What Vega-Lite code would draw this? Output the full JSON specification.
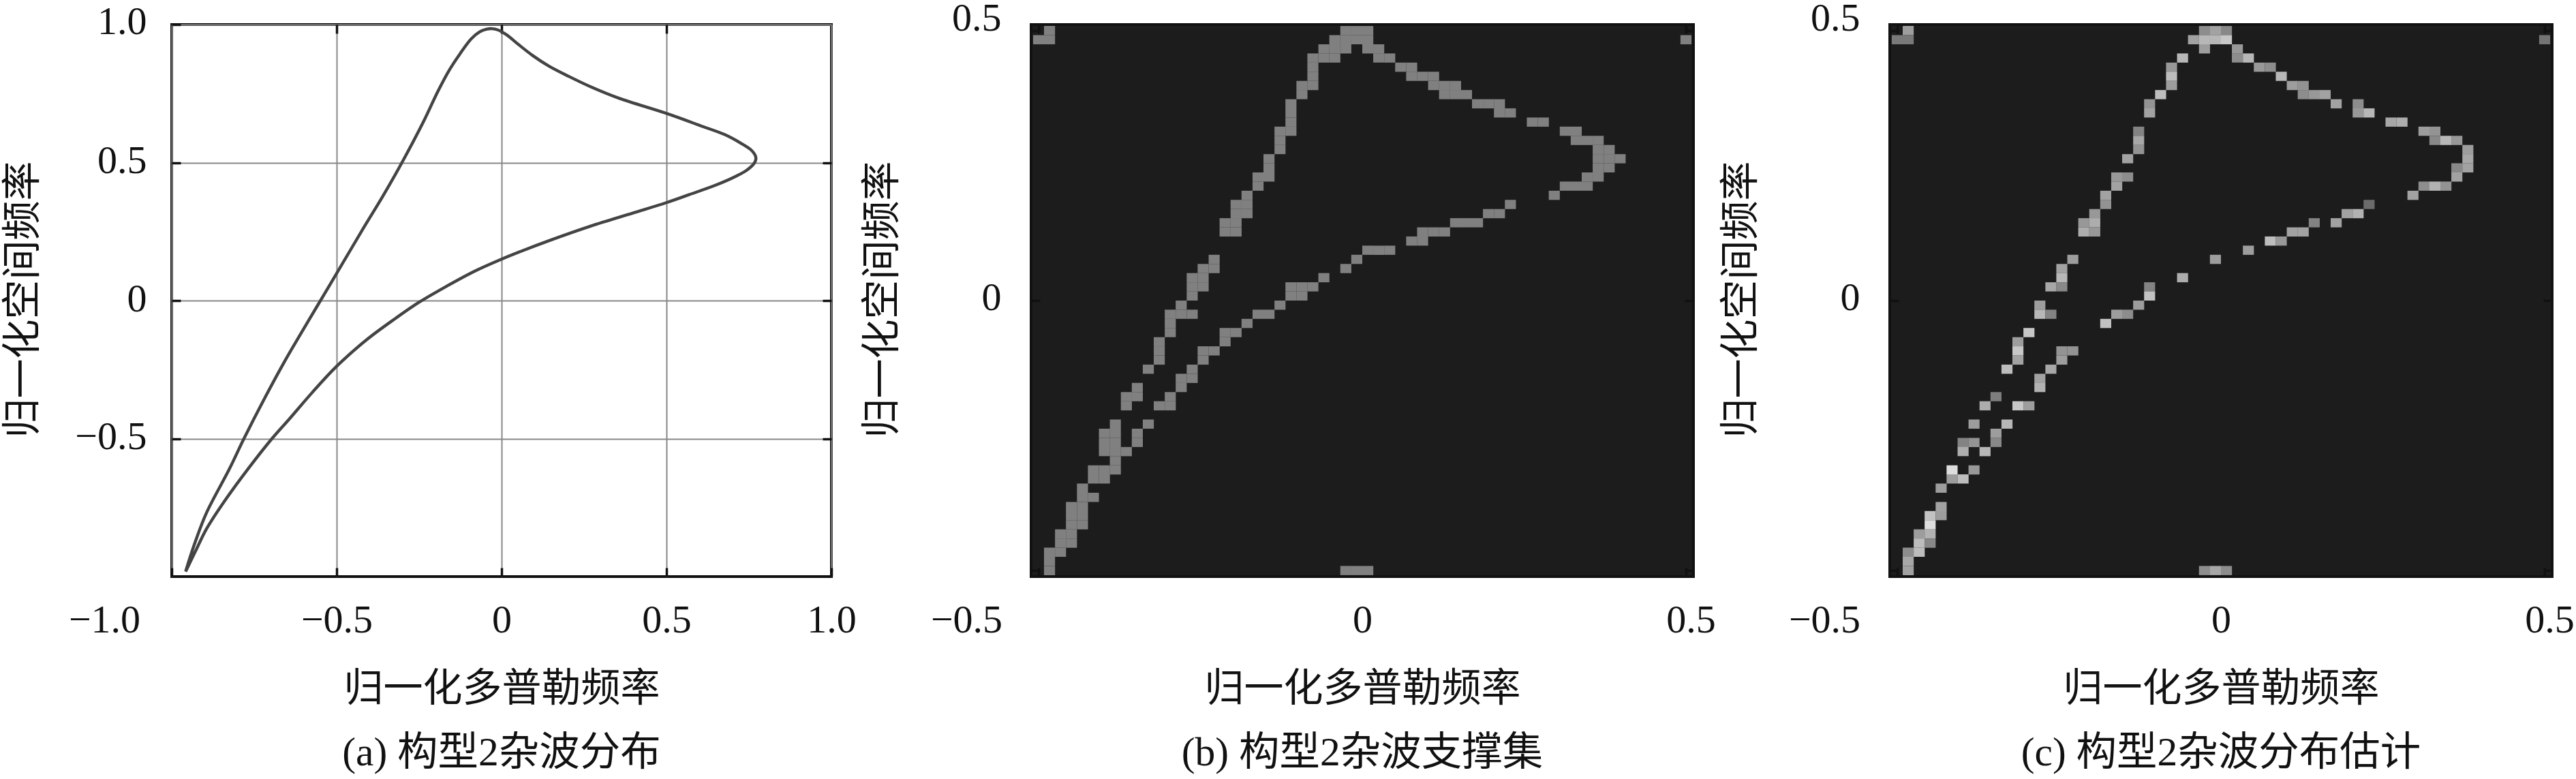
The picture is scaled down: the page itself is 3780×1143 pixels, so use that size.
{"$schema":"https://vega.github.io/schema/vega-lite/v6.json","background":"white","padding":{"left":3,"top":-4,"right":0,"bottom":0},"spacing":293,"bounds":"flush",
"config":{"view":{"stroke":"#111111","strokeWidth":4},"axis":{"labelFont":"Liberation Serif","titleFont":"Liberation Serif, Noto Sans CJK SC","labelFontSize":58,"titleFontSize":58,"titleFontWeight":"normal","labelColor":"#111111","titleColor":"#111111","domain":false,"tickColor":"#111111","tickWidth":3.5,"tickSize":-13,"labelOverlap":false,"labelBound":false,"labelFlush":false,"grid":false,"zindex":1},"title":{"font":"Liberation Serif, Noto Sans CJK SC","fontSize":59.5,"fontWeight":"normal","color":"#111111"}},
"datasets":{
"curve":[{"i":1,"d":-0.958,"s":-0.982},{"i":2,"d":-0.933,"s":-0.889},{"i":3,"d":-0.895,"s":-0.77},{"i":4,"d":-0.826,"s":-0.612},{"i":5,"d":-0.781,"s":-0.5},{"i":6,"d":-0.718,"s":-0.353},{"i":7,"d":-0.659,"s":-0.223},{"i":8,"d":-0.591,"s":-0.084},{"i":9,"d":-0.549,"s":0},{"i":10,"d":-0.515,"s":0.068},{"i":11,"d":-0.42,"s":0.26},{"i":12,"d":-0.36,"s":0.378},{"i":13,"d":-0.302,"s":0.5},{"i":15,"d":-0.236,"s":0.65},{"i":16,"d":-0.193,"s":0.758},{"i":17,"d":-0.16,"s":0.832},{"i":18,"d":-0.126,"s":0.894},{"i":19,"d":-0.092,"s":0.948},{"i":20,"d":-0.067,"s":0.973},{"i":21,"d":-0.046,"s":0.983},{"i":22,"d":-0.029,"s":0.985},{"i":23,"d":-0.012,"s":0.981},{"i":24,"d":0.014,"s":0.964},{"i":25,"d":0.052,"s":0.927},{"i":26,"d":0.094,"s":0.888},{"i":27,"d":0.144,"s":0.849},{"i":28,"d":0.204,"s":0.812},{"i":29,"d":0.271,"s":0.774},{"i":30,"d":0.356,"s":0.733},{"i":31,"d":0.5,"s":0.678},{"i":32,"d":0.609,"s":0.631},{"i":33,"d":0.677,"s":0.601},{"i":34,"d":0.727,"s":0.569},{"i":35,"d":0.757,"s":0.545},{"i":36,"d":0.769,"s":0.526},{"i":37,"d":0.771,"s":0.512},{"i":38,"d":0.765,"s":0.496},{"i":39,"d":0.744,"s":0.473},{"i":40,"d":0.71,"s":0.45},{"i":41,"d":0.651,"s":0.419},{"i":42,"d":0.567,"s":0.383},{"i":43,"d":0.5,"s":0.355},{"i":44,"d":0.398,"s":0.317},{"i":45,"d":0.271,"s":0.27},{"i":46,"d":0.144,"s":0.217},{"i":47,"d":0.06,"s":0.179},{"i":48,"d":0,"s":0.15},{"i":49,"d":-0.084,"s":0.105},{"i":50,"d":-0.168,"s":0.051},{"i":51,"d":-0.25,"s":-0.006},{"i":52,"d":-0.321,"s":-0.064},{"i":53,"d":-0.406,"s":-0.139},{"i":54,"d":-0.5,"s":-0.238},{"i":55,"d":-0.574,"s":-0.333},{"i":56,"d":-0.642,"s":-0.427},{"i":57,"d":-0.696,"s":-0.5},{"i":58,"d":-0.768,"s":-0.609},{"i":59,"d":-0.836,"s":-0.72},{"i":60,"d":-0.895,"s":-0.828},{"i":61,"d":-0.924,"s":-0.898},{"i":62,"d":-0.958,"s":-0.982}],
"support":[
{"d":-0.4831,"s":0.5},{"d":-0.0254,"s":0.5},{"d":-0.0085,"s":0.5},{"d":0.0085,"s":0.5},
{"d":-0.5,"s":0.4831},{"d":-0.4831,"s":0.4831},{"d":-0.0424,"s":0.4831},{"d":-0.0254,"s":0.4831},{"d":-0.0085,"s":0.4831},{"d":0.0085,"s":0.4831},{"d":0.5,"s":0.4831},
{"d":-0.0593,"s":0.4661},{"d":-0.0424,"s":0.4661},{"d":-0.0254,"s":0.4661},{"d":0.0085,"s":0.4661},{"d":0.0254,"s":0.4661},
{"d":-0.0763,"s":0.4492},{"d":-0.0593,"s":0.4492},{"d":-0.0424,"s":0.4492},{"d":0.0254,"s":0.4492},{"d":0.0424,"s":0.4492},
{"d":-0.0763,"s":0.4322},{"d":0.0593,"s":0.4322},{"d":0.0763,"s":0.4322},
{"d":-0.0763,"s":0.4153},{"d":0.0763,"s":0.4153},{"d":0.0932,"s":0.4153},{"d":0.1102,"s":0.4153},
{"d":-0.0932,"s":0.3983},{"d":-0.0763,"s":0.3983},{"d":0.1102,"s":0.3983},{"d":0.1271,"s":0.3983},{"d":0.1441,"s":0.3983},
{"d":-0.0932,"s":0.3814},{"d":0.1271,"s":0.3814},{"d":0.1441,"s":0.3814},{"d":0.161,"s":0.3814},
{"d":-0.1102,"s":0.3644},{"d":0.178,"s":0.3644},{"d":0.1949,"s":0.3644},{"d":0.2119,"s":0.3644},
{"d":-0.1102,"s":0.3475},{"d":0.2119,"s":0.3475},{"d":0.2288,"s":0.3475},
{"d":-0.1102,"s":0.3305},{"d":0.2627,"s":0.3305},{"d":0.2797,"s":0.3305},
{"d":-0.1271,"s":0.3136},{"d":-0.1102,"s":0.3136},{"d":0.3136,"s":0.3136},{"d":0.3305,"s":0.3136},
{"d":-0.1271,"s":0.2966},{"d":0.3305,"s":0.2966},{"d":0.3475,"s":0.2966},{"d":0.3644,"s":0.2966},
{"d":-0.1271,"s":0.2797},{"d":0.3644,"s":0.2797},{"d":0.3814,"s":0.2797},
{"d":-0.1441,"s":0.2627},{"d":0.3644,"s":0.2627},{"d":0.3814,"s":0.2627},{"d":0.3983,"s":0.2627},
{"d":-0.1441,"s":0.2458},{"d":0.3644,"s":0.2458},{"d":0.3814,"s":0.2458},
{"d":-0.161,"s":0.2288},{"d":-0.1441,"s":0.2288},{"d":0.3475,"s":0.2288},{"d":0.3644,"s":0.2288},
{"d":-0.161,"s":0.2119},{"d":0.3136,"s":0.2119},{"d":0.3305,"s":0.2119},{"d":0.3475,"s":0.2119},
{"d":-0.178,"s":0.1949},{"d":0.2966,"s":0.1949},
{"d":-0.1949,"s":0.178},{"d":-0.178,"s":0.178},{"d":0.2288,"s":0.178},
{"d":-0.1949,"s":0.161},{"d":-0.178,"s":0.161},{"d":0.1949,"s":0.161},{"d":0.2119,"s":0.161},
{"d":-0.2119,"s":0.1441},{"d":-0.1949,"s":0.1441},{"d":0.1441,"s":0.1441},{"d":0.161,"s":0.1441},{"d":0.178,"s":0.1441},
{"d":-0.2119,"s":0.1271},{"d":-0.1949,"s":0.1271},{"d":0.0932,"s":0.1271},{"d":0.1102,"s":0.1271},{"d":0.1271,"s":0.1271},
{"d":0.0763,"s":0.1102},{"d":0.0932,"s":0.1102},
{"d":0.0085,"s":0.0932},{"d":0.0254,"s":0.0932},{"d":0.0424,"s":0.0932},
{"d":-0.2288,"s":0.0763},{"d":-0.0085,"s":0.0763},
{"d":-0.2458,"s":0.0593},{"d":-0.2288,"s":0.0593},{"d":-0.0254,"s":0.0593},
{"d":-0.2627,"s":0.0424},{"d":-0.2458,"s":0.0424},{"d":-0.0593,"s":0.0424},
{"d":-0.2627,"s":0.0254},{"d":-0.2458,"s":0.0254},{"d":-0.1102,"s":0.0254},{"d":-0.0932,"s":0.0254},{"d":-0.0763,"s":0.0254},
{"d":-0.2627,"s":0.0085},{"d":-0.1102,"s":0.0085},{"d":-0.0932,"s":0.0085},
{"d":-0.2797,"s":-0.0085},{"d":-0.1271,"s":-0.0085},
{"d":-0.2966,"s":-0.0254},{"d":-0.2797,"s":-0.0254},{"d":-0.2627,"s":-0.0254},{"d":-0.161,"s":-0.0254},{"d":-0.1441,"s":-0.0254},
{"d":-0.2966,"s":-0.0424},{"d":-0.178,"s":-0.0424},
{"d":-0.2966,"s":-0.0593},{"d":-0.2119,"s":-0.0593},{"d":-0.1949,"s":-0.0593},
{"d":-0.3136,"s":-0.0763},{"d":-0.2119,"s":-0.0763},
{"d":-0.3136,"s":-0.0932},{"d":-0.2458,"s":-0.0932},{"d":-0.2288,"s":-0.0932},
{"d":-0.3136,"s":-0.1102},{"d":-0.2458,"s":-0.1102},
{"d":-0.3305,"s":-0.1271},{"d":-0.2627,"s":-0.1271},
{"d":-0.2797,"s":-0.1441},{"d":-0.2627,"s":-0.1441},
{"d":-0.3475,"s":-0.161},{"d":-0.2797,"s":-0.161},
{"d":-0.3644,"s":-0.178},{"d":-0.3475,"s":-0.178},{"d":-0.2966,"s":-0.178},
{"d":-0.3644,"s":-0.1949},{"d":-0.3136,"s":-0.1949},{"d":-0.2966,"s":-0.1949},
{"d":-0.3814,"s":-0.2288},{"d":-0.3305,"s":-0.2288},
{"d":-0.3983,"s":-0.2458},{"d":-0.3814,"s":-0.2458},{"d":-0.3475,"s":-0.2458},
{"d":-0.3983,"s":-0.2627},{"d":-0.3814,"s":-0.2627},{"d":-0.3475,"s":-0.2627},
{"d":-0.3983,"s":-0.2797},{"d":-0.3814,"s":-0.2797},{"d":-0.3644,"s":-0.2797},
{"d":-0.3814,"s":-0.2966},
{"d":-0.4153,"s":-0.3136},{"d":-0.3983,"s":-0.3136},{"d":-0.3814,"s":-0.3136},
{"d":-0.4153,"s":-0.3305},{"d":-0.3983,"s":-0.3305},
{"d":-0.4322,"s":-0.3475},
{"d":-0.4322,"s":-0.3644},{"d":-0.4153,"s":-0.3644},
{"d":-0.4492,"s":-0.3814},{"d":-0.4322,"s":-0.3814},
{"d":-0.4492,"s":-0.3983},{"d":-0.4322,"s":-0.3983},
{"d":-0.4492,"s":-0.4153},{"d":-0.4322,"s":-0.4153},
{"d":-0.4661,"s":-0.4322},{"d":-0.4492,"s":-0.4322},
{"d":-0.4661,"s":-0.4492},{"d":-0.4492,"s":-0.4492},
{"d":-0.4831,"s":-0.4661},{"d":-0.4661,"s":-0.4661},
{"d":-0.4831,"s":-0.4831},
{"d":-0.4831,"s":-0.5},{"d":-0.0254,"s":-0.5},{"d":-0.0085,"s":-0.5},{"d":0.0085,"s":-0.5}],
"estimate":[
{"d":-0.4831,"s":0.5,"v":166},{"d":-0.0254,"s":0.5,"v":150},{"d":-0.0085,"s":0.5,"v":170},{"d":0.0085,"s":0.5,"v":145},
{"d":-0.5,"s":0.4831,"v":130},{"d":-0.4831,"s":0.4831,"v":130},{"d":-0.0424,"s":0.4831,"v":170},{"d":-0.0254,"s":0.4831,"v":190},{"d":-0.0085,"s":0.4831,"v":190},{"d":0.0085,"s":0.4831,"v":205},{"d":0.5,"s":0.4831,"v":125},
{"d":-0.0254,"s":0.4661,"v":165},{"d":0.0254,"s":0.4661,"v":160},
{"d":-0.0593,"s":0.4492,"v":190},{"d":0.0254,"s":0.4492,"v":150},{"d":0.0424,"s":0.4492,"v":190},
{"d":-0.0763,"s":0.4322,"v":160},{"d":0.0593,"s":0.4322,"v":160},{"d":0.0763,"s":0.4322,"v":150},
{"d":-0.0763,"s":0.4153,"v":195},{"d":0.0932,"s":0.4153,"v":190},
{"d":-0.0763,"s":0.3983,"v":165},{"d":0.1102,"s":0.3983,"v":165},{"d":0.1271,"s":0.3983,"v":155},
{"d":-0.0932,"s":0.3814,"v":195},{"d":0.1271,"s":0.3814,"v":150},{"d":0.1441,"s":0.3814,"v":160},{"d":0.161,"s":0.3814,"v":170},
{"d":-0.1102,"s":0.3644,"v":155},{"d":0.178,"s":0.3644,"v":170},{"d":0.2119,"s":0.3644,"v":150},
{"d":-0.1102,"s":0.3475,"v":170},{"d":0.2119,"s":0.3475,"v":160},{"d":0.2288,"s":0.3475,"v":190},
{"d":0.2627,"s":0.3305,"v":175},{"d":0.2797,"s":0.3305,"v":180},
{"d":-0.1271,"s":0.3136,"v":140},{"d":0.3136,"s":0.3136,"v":165},{"d":0.3305,"s":0.3136,"v":155},
{"d":-0.1271,"s":0.2966,"v":175},{"d":0.3305,"s":0.2966,"v":145},{"d":0.3475,"s":0.2966,"v":190},{"d":0.3644,"s":0.2966,"v":160},
{"d":-0.1271,"s":0.2797,"v":155},{"d":0.3814,"s":0.2797,"v":165},
{"d":-0.1441,"s":0.2627,"v":170},{"d":0.3814,"s":0.2627,"v":175},
{"d":0.3644,"s":0.2458,"v":145},{"d":0.3814,"s":0.2458,"v":170},
{"d":-0.161,"s":0.2288,"v":160},{"d":-0.1441,"s":0.2288,"v":150},{"d":0.3644,"s":0.2288,"v":170},
{"d":-0.161,"s":0.2119,"v":170},{"d":0.3136,"s":0.2119,"v":150},{"d":0.3305,"s":0.2119,"v":185},{"d":0.3475,"s":0.2119,"v":155},
{"d":-0.178,"s":0.1949,"v":170},{"d":0.2966,"s":0.1949,"v":170},
{"d":-0.178,"s":0.178,"v":155},{"d":0.2288,"s":0.178,"v":115},
{"d":-0.1949,"s":0.161,"v":160},{"d":0.1949,"s":0.161,"v":170},{"d":0.2119,"s":0.161,"v":185},
{"d":-0.2119,"s":0.1441,"v":160},{"d":-0.1949,"s":0.1441,"v":180},{"d":0.1441,"s":0.1441,"v":140},{"d":0.178,"s":0.1441,"v":170},
{"d":-0.2119,"s":0.1271,"v":180},{"d":-0.1949,"s":0.1271,"v":160},{"d":0.1102,"s":0.1271,"v":170},{"d":0.1271,"s":0.1271,"v":170},
{"d":0.0763,"s":0.1102,"v":195},{"d":0.0932,"s":0.1102,"v":160},
{"d":0.0424,"s":0.0932,"v":165},
{"d":-0.2288,"s":0.0763,"v":165},{"d":-0.0085,"s":0.0763,"v":165},
{"d":-0.2458,"s":0.0593,"v":170},
{"d":-0.2458,"s":0.0424,"v":190},{"d":-0.0593,"s":0.0424,"v":180},
{"d":-0.2627,"s":0.0254,"v":175},{"d":-0.2458,"s":0.0254,"v":145},{"d":-0.1102,"s":0.0254,"v":140},
{"d":-0.1102,"s":0.0085,"v":200},
{"d":-0.2797,"s":-0.0085,"v":165},{"d":-0.1271,"s":-0.0085,"v":165},
{"d":-0.2797,"s":-0.0254,"v":190},{"d":-0.2627,"s":-0.0254,"v":140},{"d":-0.161,"s":-0.0254,"v":165},{"d":-0.1441,"s":-0.0254,"v":150},
{"d":-0.178,"s":-0.0424,"v":200},
{"d":-0.2966,"s":-0.0593,"v":205},
{"d":-0.3136,"s":-0.0763,"v":165},
{"d":-0.3136,"s":-0.0932,"v":205},{"d":-0.2458,"s":-0.0932,"v":155},{"d":-0.2288,"s":-0.0932,"v":155},
{"d":-0.3136,"s":-0.1102,"v":170},{"d":-0.2458,"s":-0.1102,"v":165},
{"d":-0.3305,"s":-0.1271,"v":195},{"d":-0.2627,"s":-0.1271,"v":175},
{"d":-0.2797,"s":-0.1441,"v":170},
{"d":-0.2797,"s":-0.161,"v":185},
{"d":-0.3475,"s":-0.178,"v":135},
{"d":-0.3644,"s":-0.1949,"v":180},{"d":-0.3136,"s":-0.1949,"v":205},{"d":-0.2966,"s":-0.1949,"v":165},
{"d":-0.3814,"s":-0.2288,"v":165},{"d":-0.3305,"s":-0.2288,"v":190},
{"d":-0.3475,"s":-0.2458,"v":165},
{"d":-0.3983,"s":-0.2627,"v":140},{"d":-0.3814,"s":-0.2627,"v":155},{"d":-0.3475,"s":-0.2627,"v":145},
{"d":-0.3983,"s":-0.2797,"v":180},{"d":-0.3644,"s":-0.2797,"v":190},
{"d":-0.4153,"s":-0.3136,"v":225},{"d":-0.3814,"s":-0.3136,"v":160},
{"d":-0.4153,"s":-0.3305,"v":165},{"d":-0.3983,"s":-0.3305,"v":195},
{"d":-0.4322,"s":-0.3475,"v":165},
{"d":-0.4322,"s":-0.3814,"v":170},
{"d":-0.4492,"s":-0.3983,"v":200},{"d":-0.4322,"s":-0.3983,"v":165},
{"d":-0.4492,"s":-0.4153,"v":225},
{"d":-0.4661,"s":-0.4322,"v":165},{"d":-0.4492,"s":-0.4322,"v":185},
{"d":-0.4661,"s":-0.4492,"v":195},{"d":-0.4492,"s":-0.4492,"v":145},
{"d":-0.4831,"s":-0.4661,"v":150},{"d":-0.4661,"s":-0.4661,"v":195},
{"d":-0.4831,"s":-0.4831,"v":175},
{"d":-0.4831,"s":-0.5,"v":170},{"d":-0.0254,"s":-0.5,"v":150},{"d":-0.0085,"s":-0.5,"v":175},{"d":0.0085,"s":-0.5,"v":150}]
},
"hconcat":[
{"width":968,"height":810,"title":{"text":"(a) 构型2杂波分布","orient":"bottom","offset":36,"anchor":"middle"},
"layer":[
{"data":{"name":"curve"},"mark":{"type":"line","interpolate":"catmull-rom","color":"#444444","strokeWidth":4.4},
"encoding":{"order":{"field":"i","type":"quantitative"},
"x":{"field":"d","type":"quantitative","scale":{"domain":[-1,1],"nice":false,"zero":false},"axis":{"values":[-1,-0.5,0,0.5,1],"grid":true,"gridColor":"#888888","gridWidth":2,"gridOpacity":1,"zindex":0,"labelExpr":"datum.value==0?'0':format(datum.value,'.1f')","labelPadding":48,"title":"归一化多普勒频率","titleY":165,"titleBaseline":"middle","encoding":{"labels":{"dx":{"condition":{"test":"datum.value==-1","value":-99},"value":0}}}}},
"y":{"field":"s","type":"quantitative","scale":{"domain":[-1,1],"nice":false,"zero":false},"axis":{"values":[-0.5,0,0.5,1],"grid":true,"gridColor":"#888888","gridWidth":2,"gridOpacity":1,"zindex":0,"labelExpr":"datum.value==0?'0':format(datum.value,'.1f')","labelPadding":50,"title":"归一化空间频率","titleX":-218,"titleY":403,"titleBaseline":"middle","encoding":{"labels":{"dy":{"condition":{"test":"datum.value==1","value":-4},"value":-2}}}}}}},
{"data":{"name":"curve"},"mark":{"type":"point","opacity":0},
"encoding":{"x":{"field":"d","type":"quantitative","scale":{"domain":[-1,1],"nice":false,"zero":false},"axis":{"orient":"top","values":[-0.5,0,0.5],"labels":false,"title":null}},
"y":{"field":"s","type":"quantitative","scale":{"domain":[-1,1],"nice":false,"zero":false},"axis":{"orient":"right","values":[-0.5,0,0.5],"labels":false,"title":null}}}}
],"resolve":{"axis":{"x":"independent","y":"independent"}}},
{"spacing":288,"bounds":"flush","hconcat":[
{"width":972,"height":810,"view":{"fill":"#1c1c1c"},"title":{"text":"(b) 构型2杂波支撑集","orient":"bottom","offset":36,"anchor":"middle"},
"layer":[
{"data":{"name":"support"},"mark":{"type":"rect","width":16.2,"height":13.5,"color":"#808080"},
"encoding":{
"x":{"field":"d","type":"quantitative","scale":{"domain":[-0.5116,0.5116],"nice":false,"zero":false},"axis":{"values":[-0.5,0,0.5],"labelExpr":"datum.value==0?'0':format(datum.value,'.1f')","labelPadding":48,"title":"归一化多普勒频率","titleY":165,"titleBaseline":"middle","encoding":{"labels":{"dx":{"condition":[{"test":"datum.value==-0.5","value":-106},{"test":"datum.value==0.5","value":7}],"value":0}}}}},
"y":{"field":"s","type":"quantitative","scale":{"domain":[-0.5112,0.5112],"nice":false,"zero":false},"axis":{"values":[-0.5,0,0.5],"labelExpr":"datum.value==-0.5?'':(datum.value==0?'0':format(datum.value,'.1f'))","labelPadding":57,"title":"归一化空间频率","titleX":-218,"titleY":403,"titleBaseline":"middle","encoding":{"labels":{"dy":{"condition":{"test":"datum.value==0.5","value":-17},"value":-4}}}}}}},
{"data":{"name":"support"},"mark":{"type":"point","opacity":0},
"encoding":{"x":{"field":"d","type":"quantitative","scale":{"domain":[-0.5116,0.5116],"nice":false,"zero":false},"axis":{"orient":"top","values":[-0.5,0,0.5],"labels":false,"title":null}},
"y":{"field":"s","type":"quantitative","scale":{"domain":[-0.5112,0.5112],"nice":false,"zero":false},"axis":{"orient":"right","values":[-0.5,0,0.5],"labels":false,"title":null}}}}
],"resolve":{"axis":{"x":"independent","y":"independent"}}},
{"width":972,"height":810,"view":{"fill":"#1c1c1c"},"title":{"text":"(c) 构型2杂波分布估计","orient":"bottom","offset":36,"anchor":"middle"},
"layer":[
{"data":{"name":"estimate"},"mark":{"type":"rect","width":16.2,"height":13.5},
"encoding":{
"color":{"field":"v","type":"quantitative","scale":{"type":"linear","domain":[0,255],"range":["#000000","#ffffff"]},"legend":null},
"x":{"field":"d","type":"quantitative","scale":{"domain":[-0.5116,0.5116],"nice":false,"zero":false},"axis":{"values":[-0.5,0,0.5],"labelExpr":"datum.value==0?'0':format(datum.value,'.1f')","labelPadding":48,"title":"归一化多普勒频率","titleY":165,"titleBaseline":"middle","encoding":{"labels":{"dx":{"condition":[{"test":"datum.value==-0.5","value":-107},{"test":"datum.value==0.5","value":7}],"value":0}}}}},
"y":{"field":"s","type":"quantitative","scale":{"domain":[-0.5112,0.5112],"nice":false,"zero":false},"axis":{"values":[-0.5,0,0.5],"labelExpr":"datum.value==-0.5?'':(datum.value==0?'0':format(datum.value,'.1f'))","labelPadding":57,"title":"归一化空间频率","titleX":-218,"titleY":403,"titleBaseline":"middle","encoding":{"labels":{"dy":{"condition":{"test":"datum.value==0.5","value":-17},"value":-4}}}}}}},
{"data":{"name":"estimate"},"mark":{"type":"point","opacity":0},
"encoding":{"x":{"field":"d","type":"quantitative","scale":{"domain":[-0.5116,0.5116],"nice":false,"zero":false},"axis":{"orient":"top","values":[-0.5,0,0.5],"labels":false,"title":null}},
"y":{"field":"s","type":"quantitative","scale":{"domain":[-0.5112,0.5112],"nice":false,"zero":false},"axis":{"orient":"right","values":[-0.5,0,0.5],"labels":false,"title":null}}}}
],"resolve":{"axis":{"x":"independent","y":"independent"}}}
]}
]}
